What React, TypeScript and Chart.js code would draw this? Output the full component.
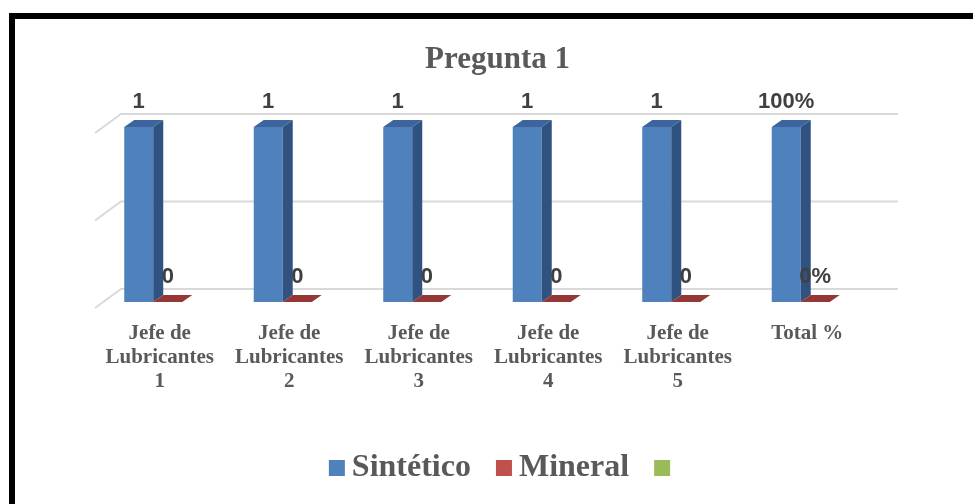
import { useEffect, useRef } from 'react';
import { Chart, registerables } from 'chart.js';

Chart.register(...registerables);

// Categories (multi-line tick labels)
const categories: string[][] = [
  ['Jefe de', 'Lubricantes', '1'],
  ['Jefe de', 'Lubricantes', '2'],
  ['Jefe de', 'Lubricantes', '3'],
  ['Jefe de', 'Lubricantes', '4'],
  ['Jefe de', 'Lubricantes', '5'],
  ['Total %'],
];

// Series
const seriesNames = ['Sintético', 'Mineral', ''];
const sinteticoValues: number[] = [1, 1, 1, 1, 1, 1];
const mineralValues: number[] = [0, 0, 0, 0, 0, 0];
const emptySeriesValues: (number | null)[] = [null, null, null, null, null, null];

// The last column holds shares of the total, shown as percentages
const percentColumns = [5];

const chartTitle = 'Pregunta 1';

const SERIF = "'Liberation Serif', 'Times New Roman', serif";
const SANS = "'Liberation Sans', Arial, sans-serif";

const frontColors = ['#4f81bd', '#c0504d', '#9bbb59'];
const topColors = ['#3b659c', '#953735', '#789440'];
const sideColors = ['#2f5280', '#7d2f2d', '#617834'];

// depth of a column
const BAR_DX = 10;
const BAR_DY = 7;
// walls relative to the columns' front plane
const BACK_DX = 18;
const BACK_DY = 13;
const FRONT_DX = 8;
const FRONT_DY = 6;

function formatValue(v: number, index: number): string {
  if (percentColumns.includes(index)) return `${Math.round(v * 100)}%`;
  return `${v}`;
}

const wallPlugin = {
  id: 'wall3d',
  beforeDatasetsDraw(chart: any) {
    const { ctx, chartArea, scales } = chart;
    const y = scales.y;
    ctx.save();
    ctx.strokeStyle = '#d9d9d9';
    ctx.lineWidth = 2;
    for (const t of y.ticks) {
      const py = y.getPixelForValue(t.value);
      ctx.beginPath();
      ctx.moveTo(chartArea.left - FRONT_DX, py + FRONT_DY);
      ctx.lineTo(chartArea.left + BACK_DX, py - BACK_DY);
      ctx.lineTo(chartArea.right + BACK_DX, py - BACK_DY);
      ctx.stroke();
    }
    ctx.restore();
  },
};

const columnPlugin = {
  id: 'column3d',
  afterDatasetsDraw(chart: any) {
    const { ctx } = chart;
    ctx.save();
    chart.data.datasets.forEach((ds: any, di: number) => {
      const meta = chart.getDatasetMeta(di);
      meta.data.forEach((bar: any, i: number) => {
        const v = ds.data[i];
        if (v === null || v === undefined) return;
        const { x, y, base, width } = bar.getProps(['x', 'y', 'base', 'width'], true);
        const x1 = x - width / 2;
        const x2 = x + width / 2;
        if (base - y > 0.5) {
          ctx.fillStyle = sideColors[di];
          ctx.beginPath();
          ctx.moveTo(x2, y);
          ctx.lineTo(x2 + BAR_DX, y - BAR_DY);
          ctx.lineTo(x2 + BAR_DX, base - BAR_DY);
          ctx.lineTo(x2, base);
          ctx.closePath();
          ctx.fill();
        }
        ctx.fillStyle = topColors[di];
        ctx.beginPath();
        ctx.moveTo(x1, y);
        ctx.lineTo(x1 + BAR_DX, y - BAR_DY);
        ctx.lineTo(x2 + BAR_DX, y - BAR_DY);
        ctx.lineTo(x2, y);
        ctx.closePath();
        ctx.fill();
      });
    });

    // value labels
    ctx.fillStyle = '#404040';
    ctx.font = `bold 22px ${SANS}`;
    ctx.textAlign = 'center';
    ctx.textBaseline = 'alphabetic';
    chart.data.datasets.forEach((ds: any, di: number) => {
      const meta = chart.getDatasetMeta(di);
      meta.data.forEach((bar: any, i: number) => {
        const v = ds.data[i];
        if (v === null || v === undefined) return;
        const { x, y } = bar.getProps(['x', 'y'], true);
        ctx.fillText(formatValue(v, i), x, y - 19);
      });
    });
    ctx.restore();
  },
};

const legendPlugin = {
  id: 'bottomLegend',
  afterDraw(chart: any) {
    const { ctx } = chart;
    const tb = chart.titleBlock;
    const cx = tb ? (tb.left + tb.right) / 2 + 2 : chart.width / 2;
    const cy = 468;
    const box = 16;
    const gap = 7;
    const spacing = 25;
    ctx.save();
    ctx.font = `bold 32px ${SERIF}`;
    const items = chart.data.datasets.map((ds: any, di: number) => {
      const text = ds.label || '';
      const tw = text ? ctx.measureText(text).width : 0;
      return { text, tw, color: frontColors[di], w: box + (text ? gap + tw : 0) };
    });
    const total = items.reduce((s: number, it: any) => s + it.w, 0) + spacing * (items.length - 1);
    let x = cx - total / 2;
    ctx.textBaseline = 'middle';
    ctx.textAlign = 'left';
    for (const it of items) {
      ctx.fillStyle = it.color;
      ctx.fillRect(x, cy - box / 2, box, box);
      if (it.text) {
        ctx.fillStyle = '#595959';
        ctx.fillText(it.text, x + box + gap, cy);
      }
      x += it.w + spacing;
    }
    ctx.restore();
  },
};

export default function App() {
  const canvasRef = useRef<HTMLCanvasElement | null>(null);

  useEffect(() => {
    const canvas = canvasRef.current;
    if (!canvas) return;
    const chart = new Chart(canvas, {
      type: 'bar',
      data: {
        labels: categories,
        datasets: [
          { label: seriesNames[0], data: sinteticoValues, backgroundColor: frontColors[0] },
          { label: seriesNames[1], data: mineralValues, backgroundColor: frontColors[1] },
          { label: seriesNames[2], data: emptySeriesValues, backgroundColor: frontColors[2] },
        ],
      },
      options: {
        responsive: false,
        animation: false,
        events: [],
        datasets: {
          bar: {
            barPercentage: 1,
            categoryPercentage: 0.672,
            borderWidth: 0,
          },
        },
        layout: { padding: { top: 0, left: 103, right: 81, bottom: 0 } },
        scales: {
          x: {
            grid: { display: false, drawTicks: false },
            border: { display: false },
            ticks: {
              color: '#595959',
              font: { family: SERIF, size: 21, weight: 'bold', lineHeight: 1.143 },
              padding: 20,
              labelOffset: -8,
              maxRotation: 0,
              autoSkip: false,
            },
            afterFit(scale: any) {
              scale.height = 202;
            },
          },
          y: {
            position: 'right',
            min: 0,
            max: 1,
            ticks: { display: false, stepSize: 0.5 },
            grid: { display: false, drawTicks: false },
            border: { display: false },
            afterFit(scale: any) {
              scale.width = 12;
            },
          },
        },
        plugins: {
          legend: { display: false },
          tooltip: { enabled: false },
          title: {
            display: true,
            text: chartTitle,
            color: '#595959',
            font: { family: SERIF, size: 31, weight: 'bold', lineHeight: 1.2 },
            padding: { top: 41, bottom: 48.8 },
          },
        },
      },
      plugins: [wallPlugin, columnPlugin, legendPlugin],
    } as any);
    return () => chart.destroy();
  }, []);

  return (
    <div
      style={{
        position: 'absolute',
        left: 0,
        top: 0,
        width: 973,
        height: 504,
        overflow: 'hidden',
        background: '#ffffff',
      }}
    >
      <div
        style={{
          position: 'absolute',
          left: 9,
          top: 13,
          width: 1200,
          height: 800,
          borderTop: '6px solid #000',
          borderLeft: '6px solid #000',
        }}
      />
      <canvas
        ref={canvasRef}
        width={973}
        height={504}
        style={{ position: 'absolute', left: 0, top: 0, width: 973, height: 504 }}
      />
    </div>
  );
}
